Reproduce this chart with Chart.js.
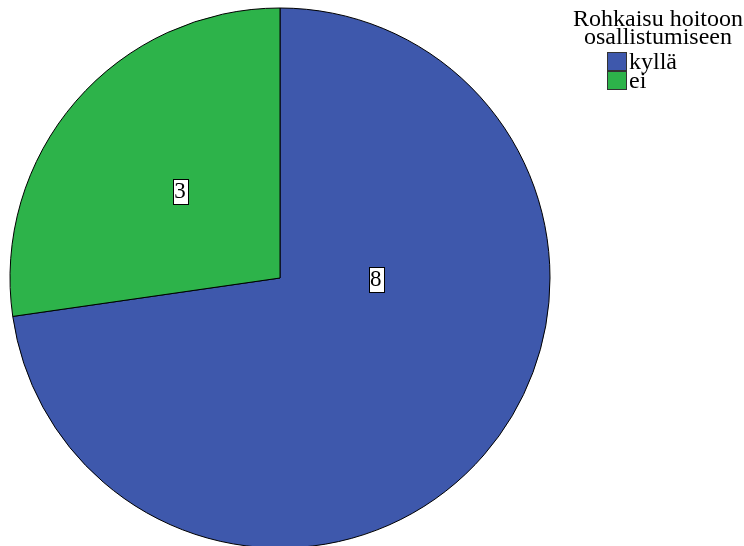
<!DOCTYPE html>
<html>
<head>
<meta charset="utf-8">
<script src="https://cdn.jsdelivr.net/npm/chart.js@4/dist/chart.umd.min.js"></script>
<style>
  html, body { margin: 0; padding: 0; background: #fff; overflow: hidden; }
  #wrap { position: relative; width: 744px; height: 546px; }
  #legend {
    position: absolute; left: 566px; top: 9px; width: 184px;
    font-family: "Liberation Serif", "Times New Roman", serif; color: #000;
  }
  #legend .title { text-align: center; font-size: 24px; line-height: 18px; }
  #legend ul { list-style: none; margin: 7px 0 0 41px; padding: 0; }
  #legend li { font-size: 24px; line-height: 19px; height: 19px; display: flex; align-items: center; }
  #legend .box { width: 18px; height: 17px; border: 1px solid #333; margin-right: 2px; }
</style>
</head>
<body>
<div id="wrap">
  <canvas id="pie" width="744" height="546"></canvas>
  <div id="legend"></div>
</div>
<script>
const legendTitle = ['Rohkaisu hoitoon', 'osallistumiseen'];
const categories = ['kyllä', 'ei'];
const counts = [8, 3];
const colors = ['#3e58ac', '#2db34a'];

// legend built from the same arrays as the pie
const legend = document.getElementById('legend');
legend.innerHTML = '<div class="title">' + legendTitle.join('<br>') + '</div><ul>' +
  categories.map((c, i) => '<li><span class="box" style="background:' + colors[i] + '"></span>' + c + '</li>').join('') +
  '</ul>';

// boxed count labels inside each slice
const boxedLabels = {
  id: 'boxedLabels',
  afterDatasetsDraw(chart, args, opts) {
    const ctx = chart.ctx;
    const meta = chart.getDatasetMeta(0);
    ctx.save();
    ctx.font = '23px "Liberation Serif", "Times New Roman", serif';
    ctx.textAlign = 'center';
    ctx.textBaseline = 'middle';
    meta.data.forEach((arc, i) => {
      const p = arc.getProps(['x', 'y', 'startAngle', 'endAngle', 'outerRadius'], true);
      const place = opts.placement[i];
      const a = p.startAngle + (p.endAngle - p.startAngle) * place.along;
      const r = p.outerRadius * place.out;
      const x = p.x + Math.cos(a) * r;
      const y = p.y + Math.sin(a) * r;
      const txt = String(chart.data.datasets[0].data[i]);
      const w = ctx.measureText(txt).width + 3;
      const h = 25;
      ctx.fillStyle = '#fff';
      ctx.fillRect(Math.round(x - w / 2) + 0.5, Math.round(y - h / 2) + 0.5, Math.round(w), h);
      ctx.strokeStyle = '#000';
      ctx.lineWidth = 1;
      ctx.strokeRect(Math.round(x - w / 2) + 0.5, Math.round(y - h / 2) + 0.5, Math.round(w), h);
      ctx.fillStyle = '#000';
      ctx.fillText(txt, x, y + 1);
    });
    ctx.restore();
  }
};

new Chart(document.getElementById('pie'), {
  type: 'pie',
  data: {
    labels: categories,
    datasets: [{
      data: counts,
      backgroundColor: colors,
      borderColor: '#000',
      borderWidth: 1
    }]
  },
  options: {
    responsive: false,
    animation: false,
    radius: 270,
    layout: { padding: { left: 10, right: 194, top: 10, bottom: 0 } },
    plugins: {
      legend: { display: false },
      tooltip: { enabled: false },
      boxedLabels: {
        placement: [{ along: 0.347, out: 0.355 }, { along: 0.5, out: 0.49 }]
      }
    }
  },
  plugins: [boxedLabels]
});
</script>
</body>
</html>
